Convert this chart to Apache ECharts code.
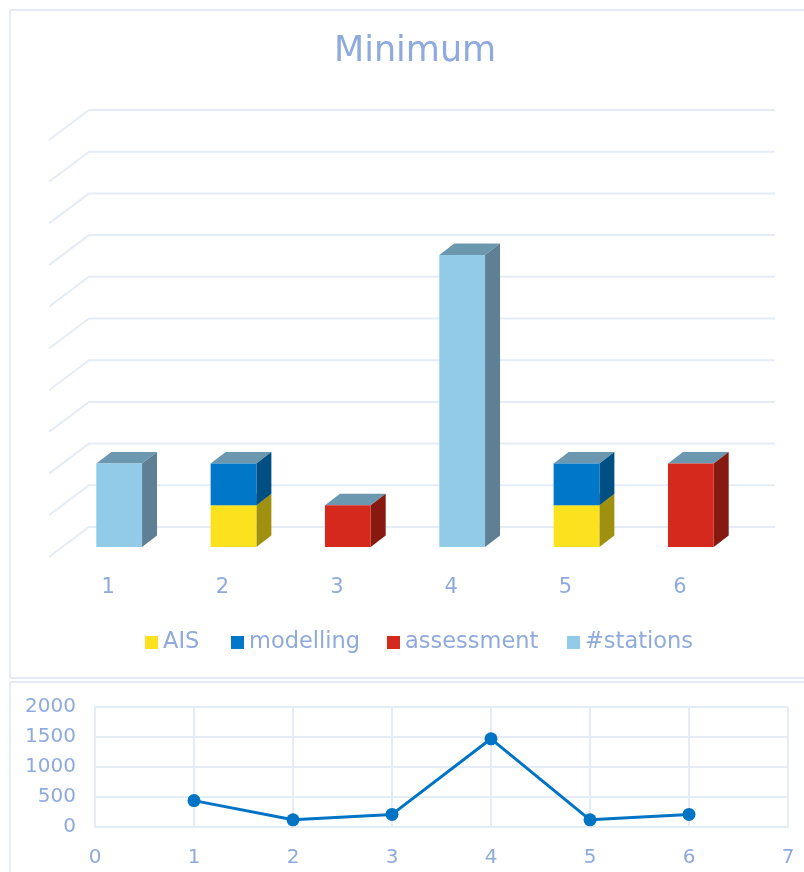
<!DOCTYPE html>
<html>
<head>
<meta charset="utf-8">
<style>html,body{margin:0;padding:0;background:#fff}#chart{width:804px;height:872px}</style>
<script src="https://cdn.jsdelivr.net/npm/echarts@6/dist/echarts.min.js"></script>
</head>
<body>
<div id="chart"></div>
<script>
// Stacked pseudo-3D columns over a small line panel
const categories = ['1', '2', '3', '4', '5', '6'];
const ais = [0, 1, 0, 0, 1, 0];
const modelling = [0, 1, 0, 0, 1, 0];
const assessment = [0, 0, 1, 0, 0, 2];
const stations = [2, 0, 0, 7, 0, 0];
const gridLevels = [0, 1, 2, 3, 4, 5, 6, 7, 8, 9, 10];
const stationX = [1, 2, 3, 4, 5, 6];
const stationCounts = [440, 120, 210, 1470, 120, 210];

const FONT = '"DejaVu Sans", sans-serif';
const TEXT = '#8faadc';
const LINE = '#e6ecf5';
const WALL = { dx: 40, dy: 30 };      // depth of the back wall
const BAR = { dx: 15, dy: 11.5, inX: 13, inY: 10, width: 0.4 };  // column depth and inset from the front edge
const TOP_FACE = '#6b98ae';

const stackOrder = [
  { name: 'AIS', values: ais, front: '#fbe11e', side: '#a0900f', legendLeft: 145 },
  { name: 'modelling', values: modelling, front: '#0077c8', side: '#004f82', legendLeft: 231 },
  { name: 'assessment', values: assessment, front: '#d4291c', side: '#871a10', legendLeft: 387 },
  { name: '#stations', values: stations, front: '#92cbe8', side: '#5f7f95', legendLeft: 567 }
];

// Running totals so each segment knows where it starts
const running = categories.map(() => 0);
const columnSeries = stackOrder.map(s => ({
  type: 'custom',
  name: s.name,
  xAxisIndex: 0,
  yAxisIndex: 0,
  z: 5,
  clip: false,
  itemStyle: { color: s.front },
  data: s.values.map((v, i) => {
    const from = running[i];
    running[i] += v;
    return [i, from, from + v];
  }),
  renderItem(params, api) {
    const from = api.value(1), to = api.value(2);
    if (to <= from) return null;
    const w = api.size([1, 0])[0] * BAR.width;
    const c = api.coord([api.value(0), from]);
    const yTop = api.coord([api.value(0), to])[1] - BAR.inY;
    const yBase = c[1] - BAR.inY;
    const x0 = c[0] + BAR.inX - w / 2, x1 = x0 + w;
    const poly = (points, fill) => ({ type: 'polygon', shape: { points }, style: { fill } });
    return {
      type: 'group',
      children: [
        poly([[x0, yTop], [x1, yTop], [x1 + BAR.dx, yTop - BAR.dy], [x0 + BAR.dx, yTop - BAR.dy]], TOP_FACE),
        poly([[x1, yBase], [x1 + BAR.dx, yBase - BAR.dy], [x1 + BAR.dx, yTop - BAR.dy], [x1, yTop]], s.side),
        poly([[x0, yBase], [x1, yBase], [x1, yTop], [x0, yTop]], s.front)
      ]
    };
  }
}));

// Floor and wall lines: a short diagonal, then along the back
const wallSeries = {
  type: 'custom',
  xAxisIndex: 0,
  yAxisIndex: 0,
  z: 1,
  silent: true,
  clip: false,
  data: gridLevels.map(v => [0, v]),
  renderItem(params, api) {
    const y = api.coord([0, api.value(1)])[1];
    const g = params.coordSys;
    return {
      type: 'polyline',
      shape: { points: [[g.x, y], [g.x + WALL.dx, y - WALL.dy], [g.x + g.width + WALL.dx, y - WALL.dy]] },
      style: { stroke: LINE, lineWidth: 2, fill: null }
    };
  }
};

const chart = echarts.init(document.getElementById('chart'), null, { renderer: 'canvas' });
chart.setOption({
  animation: false,
  backgroundColor: '#fff',
  title: {
    text: 'Minimum',
    left: 329,
    top: 29,
    textStyle: { color: TEXT, fontFamily: FONT, fontWeight: 'normal', fontSize: 35 }
  },
  // One legend per entry so the four keys keep their own spacing
  legend: stackOrder.map(s => ({
    data: [s.name],
    left: s.legendLeft,
    top: 631,
    padding: 0,
    itemWidth: 13,
    itemHeight: 13,
    icon: 'rect',
    textStyle: { color: TEXT, fontFamily: FONT, fontSize: 22.5 }
  })),
  graphic: [
    { type: 'rect', silent: true, z: 0, shape: { x: 10, y: 10, width: 810, height: 668 }, style: { fill: null, stroke: LINE, lineWidth: 2 } },
    { type: 'rect', silent: true, z: 0, shape: { x: 10, y: 682, width: 810, height: 210 }, style: { fill: null, stroke: LINE, lineWidth: 2 } }
  ],
  grid: [
    { left: 49, top: 140, width: 686, height: 417 },
    { left: 95, top: 707, width: 693, height: 120 }
  ],
  xAxis: [
    {
      gridIndex: 0,
      type: 'category',
      data: categories,
      axisLine: { show: false },
      axisTick: { show: false },
      axisLabel: { color: TEXT, fontFamily: FONT, fontSize: 21, margin: 20, padding: [0, 0, 0, 4] }
    },
    {
      gridIndex: 1,
      type: 'value',
      min: 0,
      max: 7,
      interval: 1,
      axisLine: { show: true, lineStyle: { color: LINE, width: 2 } },
      axisTick: { show: false },
      splitLine: { show: true, lineStyle: { color: LINE, width: 2 } },
      axisLabel: { color: TEXT, fontFamily: FONT, fontSize: 20, margin: 21 }
    }
  ],
  yAxis: [
    { gridIndex: 0, type: 'value', min: 0, max: 10, interval: 1, show: false },
    {
      gridIndex: 1,
      type: 'value',
      min: 0,
      max: 2000,
      interval: 500,
      axisLine: { show: true, lineStyle: { color: LINE, width: 2 } },
      axisTick: { show: false },
      splitLine: { show: true, lineStyle: { color: LINE, width: 2 } },
      axisLabel: { color: TEXT, fontFamily: FONT, fontSize: 20, margin: 19, formatter: v => String(v) }
    }
  ],
  series: [
    wallSeries,
    ...columnSeries,
    {
      type: 'line',
      xAxisIndex: 1,
      yAxisIndex: 1,
      z: 5,
      data: stationX.map((x, i) => [x, stationCounts[i]]),
      symbol: 'circle',
      symbolSize: 13,
      lineStyle: { color: '#0074c4', width: 3 },
      itemStyle: { color: '#0074c4' }
    }
  ]
});
</script>
</body>
</html>
